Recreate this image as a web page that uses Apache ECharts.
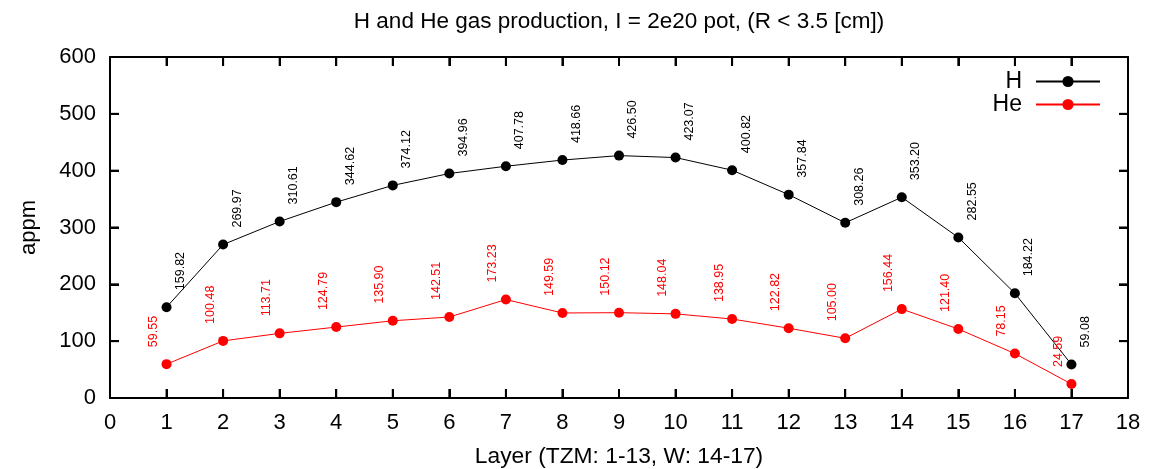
<!DOCTYPE html>
<html>
<head>
<meta charset="utf-8">
<script src="https://cdn.jsdelivr.net/npm/echarts@6/dist/echarts.min.js"></script>
<style>html,body{margin:0;padding:0;background:#fff;}#c{width:1149px;height:469px;}</style>
</head>
<body>
<div id="c"></div>
<script>
var layers = [1,2,3,4,5,6,7,8,9,10,11,12,13,14,15,16,17];
var hValues = [159.82,269.97,310.61,344.62,374.12,394.96,407.78,418.66,426.50,423.07,400.82,357.84,308.26,353.20,282.55,184.22,59.08];
var heValues = [59.55,100.48,113.71,124.79,135.90,142.51,173.23,149.59,150.12,148.04,138.95,122.82,105.00,156.44,121.40,78.15,24.59];
var seriesNames = ['H','He'];
var xTickValues = [0,1,2,3,4,5,6,7,8,9,10,11,12,13,14,15,16,17,18];
var yTickValues = [0,100,200,300,400,500,600];
var titleText = 'H and He gas production, I = 2e20 pot, (R < 3.5 [cm])';
var xName = 'Layer (TZM: 1-13, W: 14-17)';
var yName = 'appm';

var FONT = 'Liberation Sans, Arial, sans-serif';
var TICK = 9;
var xMin = xTickValues[0], xMax = xTickValues[xTickValues.length-1];
var yMin = yTickValues[0], yMax = yTickValues[yTickValues.length-1];
function pairs(vals){ return layers.map(function(l,i){ return [l, vals[i]]; }); }

function mainAxis(extra){
  return Object.assign({
    axisLine:{show:true, onZero:false, lineStyle:{color:'#000', width:2}},
    axisTick:{show:true, inside:true, length:TICK, lineStyle:{color:'#000', width:2}},
    splitLine:{show:false}
  }, extra);
}
function lbl(color, dx){
  return {show:true, position:'top', rotate:90, align:'left', verticalAlign:'middle',
    offset:[7, dx], color:color, fontFamily:FONT, fontSize:12.5,
    formatter:function(p){ return p.value[1].toFixed(2); }};
}
function tickRect(x, y, w, h){
  return {type:'rect', silent:true, z:100, shape:{x:x, y:y, width:w, height:h}, style:{fill:'#000'}};
}
var xRange = {type:'value', min:xMin, max:xMax, interval:1};
var yRange = {type:'value', min:yMin, max:yMax, interval:100};
var chart = echarts.init(document.getElementById('c'));
chart.setOption({
  animation:false,
  backgroundColor:'#fff',
  title:{text:titleText, left:619, top:10, textAlign:'center', padding:0,
    textStyle:{fontFamily:FONT, fontSize:22.5, fontWeight:'normal', color:'#000'}},
  legend:{orient:'vertical', right:43, top:65, align:'right', itemWidth:64, itemHeight:14, itemGap:0,
    data:seriesNames,
    textStyle:{fontFamily:FONT, fontSize:23, color:'#000', padding:[0,9,0,0]}},
  grid:{left:110, right:21, top:57, bottom:71, outerBoundsMode:'none', containLabel:false},
  xAxis:[
    mainAxis(Object.assign({position:'bottom',
      name:xName, nameLocation:'middle', nameGap:47,
      nameTextStyle:{fontFamily:FONT, fontSize:22.8, color:'#000'},
      axisLabel:{fontFamily:FONT, fontSize:22, color:'#000', margin:14}}, xRange)),
    mainAxis(Object.assign({position:'top', axisLabel:{show:false}}, xRange))
  ],
  yAxis:[
    mainAxis(Object.assign({position:'left',
      name:yName, nameLocation:'middle', nameGap:70,
      nameTextStyle:{fontFamily:FONT, fontSize:22, color:'#000'},
      axisLabel:{fontFamily:FONT, fontSize:22, color:'#000', margin:14}}, yRange)),
    mainAxis(Object.assign({position:'right', axisLabel:{show:false}}, yRange))
  ],
  series:[
    {name:seriesNames[0], type:'line', xAxisIndex:0, yAxisIndex:0, data:pairs(hValues), symbol:'circle', symbolSize:10,
      itemStyle:{color:'#000'}, lineStyle:{color:'#000', width:1}, label:lbl('#000',14)},
    {name:seriesNames[1], type:'line', xAxisIndex:0, yAxisIndex:0, data:pairs(heValues), symbol:'circle', symbolSize:10,
      itemStyle:{color:'#ff0000'}, lineStyle:{color:'#ff0000', width:1}, label:lbl('#ff0000',-13)}
  ]
});

// inward tick marks on all four sides as small filled bars, placed through the chart's own scales
var ticks = [];
xTickValues.forEach(function(v){
  var b = chart.convertToPixel({gridIndex:0}, [v, yMin]);
  var t = chart.convertToPixel({gridIndex:0}, [v, yMax]);
  if (b && t) {
    ticks.push(tickRect(b[0]-1, b[1]-TICK, 2, TICK));
    ticks.push(tickRect(t[0]-1, t[1], 2, TICK));
  }
});
yTickValues.forEach(function(v){
  var l = chart.convertToPixel({gridIndex:0}, [xMin, v]);
  var r = chart.convertToPixel({gridIndex:0}, [xMax, v]);
  if (l && r) {
    ticks.push(tickRect(l[0], l[1]-1, TICK, 2));
    ticks.push(tickRect(r[0]-TICK, r[1]-1, TICK, 2));
  }
});
chart.setOption({graphic:{elements:ticks}});
</script>
</body>
</html>
